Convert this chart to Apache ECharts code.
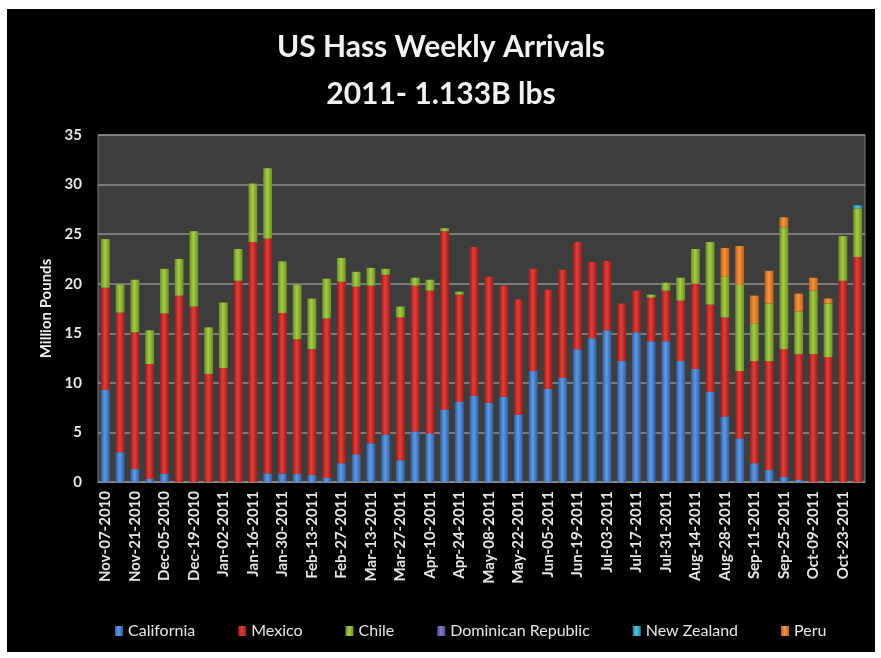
<!DOCTYPE html>
<html>
<head>
<meta charset="utf-8">
<script src="https://cdn.jsdelivr.net/npm/echarts@6/dist/echarts.min.js"></script>
<style>
html,body{margin:0;padding:0;background:#fff;width:881px;height:658px;overflow:hidden;}
#chart{position:absolute;left:7px;top:9px;width:868px;height:643px;background:#000;}
</style>
</head>
<body>
<div id="chart"></div>
<script>
const weeks = ["Nov-07-2010","Nov-14-2010","Nov-21-2010","Nov-28-2010","Dec-05-2010","Dec-12-2010","Dec-19-2010","Dec-26-2010",
"Jan-02-2011","Jan-09-2011","Jan-16-2011","Jan-23-2011","Jan-30-2011","Feb-06-2011","Feb-13-2011","Feb-20-2011","Feb-27-2011",
"Mar-06-2011","Mar-13-2011","Mar-20-2011","Mar-27-2011","Apr-03-2011","Apr-10-2011","Apr-17-2011","Apr-24-2011","May-01-2011",
"May-08-2011","May-15-2011","May-22-2011","May-29-2011","Jun-05-2011","Jun-12-2011","Jun-19-2011","Jun-26-2011","Jul-03-2011",
"Jul-10-2011","Jul-17-2011","Jul-24-2011","Jul-31-2011","Aug-07-2011","Aug-14-2011","Aug-21-2011","Aug-28-2011","Sep-04-2011",
"Sep-11-2011","Sep-18-2011","Sep-25-2011","Oct-02-2011","Oct-09-2011","Oct-16-2011","Oct-23-2011","Oct-30-2011"];

const california = [9.3,3.0,1.3,0.3,0.8,0,0,0,0,0,0,0.85,0.85,0.8,0.7,0.4,1.9,2.8,3.9,4.8,2.2,5.1,4.9,7.3,8.1,8.7,8.0,8.6,6.8,11.2,9.4,10.5,13.4,14.5,15.3,12.2,15.1,14.2,14.2,12.2,11.4,9.1,6.6,4.4,1.9,1.2,0.5,0.2,0,0,0,0];
const mexico = [10.3,14.1,13.8,11.6,16.2,18.8,17.7,10.9,11.5,20.3,24.2,23.7,16.2,13.6,12.7,16.1,18.3,16.9,15.9,16.1,14.4,14.7,14.4,18.0,10.8,15.0,12.7,11.2,11.6,10.3,10.0,10.9,10.8,7.7,7.0,5.8,4.2,4.4,5.1,6.1,8.6,8.8,10.0,6.8,10.3,11.0,12.9,12.7,12.9,12.6,20.3,22.7];
const chile = [4.9,2.8,5.3,3.4,4.5,3.7,7.6,4.7,6.6,3.2,5.9,7.1,5.2,5.5,5.1,4.0,2.4,1.5,1.8,0.6,1.1,0.8,1.1,0.3,0.3,0,0,0,0,0,0,0,0,0,0,0,0,0.3,0.8,2.3,3.5,6.3,4.1,8.7,3.8,5.8,12.3,4.3,6.4,5.4,4.5,4.9];
const dominican = [0,0,0,0,0,0,0,0,0,0,0,0,0,0,0,0,0,0,0,0,0,0,0,0,0,0,0,0,0,0,0,0,0,0,0,0,0,0,0,0,0,0,0,0,0,0,0,0,0,0,0,0];
const newZealand = [0,0,0,0,0,0,0,0,0,0,0,0,0,0,0,0,0,0,0,0,0,0,0,0,0,0,0,0,0,0,0,0,0,0,0,0,0,0,0,0,0,0,0,0,0,0,0,0,0,0,0,0.3];
const peru = [0,0,0,0,0,0,0,0,0,0,0,0,0,0,0,0,0,0,0,0,0,0,0,0,0,0,0,0,0,0,0,0,0,0,0,0,0,0,0,0,0,0,2.9,3.9,2.8,3.3,1.0,1.8,1.3,0.5,0,0];
const yTicks = [0,5,10,15,20,25,30,35];

const seriesDefs = [
  {name:"California", data:california, light:"#5f9ae0", dark:"#2d5fa8"},
  {name:"Mexico", data:mexico, light:"#e0403a", dark:"#a01a16"},
  {name:"Chile", data:chile, light:"#a6cc48", dark:"#6a9020"},
  {name:"Dominican Republic", data:dominican, light:"#8a7ac8", dark:"#56478f"},
  {name:"New Zealand", data:newZealand, light:"#4cc4e0", dark:"#2387a6"},
  {name:"Peru", data:peru, light:"#f4963c", dark:"#c0601a"}
];

const chart = echarts.init(document.getElementById('chart'));
const FONT = 'Lato, "Open Sans", sans-serif';
chart.setOption({
  backgroundColor:'#000',
  animation:false,
  title:{
    text:'US Hass Weekly Arrivals\n2011- 1.133B lbs',
    left:'center', top:10,
    textStyle:{color:'#f2f2f2', fontSize:30, fontWeight:'bold', fontFamily:FONT, lineHeight:47}
  },
  legend:{
    bottom:8, left:103,
    itemWidth:8, itemHeight:10, itemGap:43,
    icon:'rect',
    textStyle:{color:'#e6e6e6', fontSize:16, fontFamily:FONT},
    data:seriesDefs.map(s=>s.name)
  },
  grid:{
    left:91, right:10, top:126, bottom:170,
    show:true, backgroundColor:'#3d3d3d', borderColor:'#7a7a7a', borderWidth:1
  },
  xAxis:{
    type:'category', data:weeks,
    axisLine:{lineStyle:{color:'#8a8a8a'}},
    axisTick:{show:false},
    axisLabel:{interval:1, rotate:90, color:'#e6e6e6', fontSize:15, fontWeight:'bold', fontFamily:FONT, margin:9}
  },
  yAxis:{
    type:'value', min:yTicks[0], max:yTicks[yTicks.length-1], interval:5,
    name:'Million Pounds', nameLocation:'middle', nameGap:42,
    nameTextStyle:{color:'#f0f0f0', fontSize:15, fontWeight:'bold', fontFamily:FONT},
    axisLine:{show:false}, axisTick:{show:false},
    axisLabel:{color:'#e6e6e6', fontSize:15, fontWeight:'bold', fontFamily:FONT, margin:16},
    splitLine:{lineStyle:{color:'#8f8f8f', width:1.5}}
  },
  series: seriesDefs.map(s=>({
    name:s.name, type:'bar', stack:'total', data:s.data,
    barCategoryGap:'40%',
    itemStyle:{color:new echarts.graphic.LinearGradient(0,0,1,0,[
      {offset:0,color:s.dark},{offset:0.45,color:s.light},{offset:1,color:s.dark}])}
  }))
});
</script>
</body>
</html>
